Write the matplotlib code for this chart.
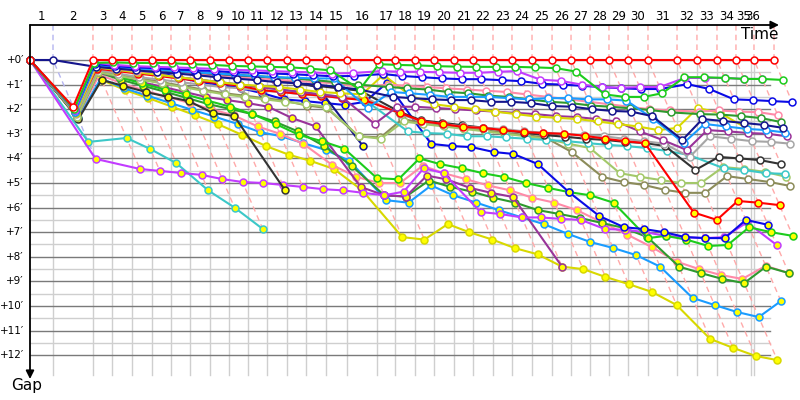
import matplotlib
matplotlib.use("Agg")
import matplotlib.pyplot as plt

# ---------------- data ----------------
# leader elapsed time (minutes) at the end of each lap index (0 = start)
lap_time = [0.00, 2.17, 5.94, 7.74, 9.62, 11.51, 13.30, 15.09, 16.98, 18.77,
            20.57, 22.36, 24.25, 26.04, 27.92, 29.91, 32.74, 34.43, 36.32, 38.11,
            40.00, 41.79, 43.68, 45.47, 47.36, 49.25, 51.04, 52.83, 54.62, 56.42,
            58.30, 61.04, 62.92, 64.81, 66.60, 68.30, 70.19]
# lap label boundaries (minutes)
lap_bounds = [0.00, 2.17, 5.94, 7.74, 9.62, 11.51, 13.30, 15.09, 16.98, 18.77,
              20.57, 22.36, 24.25, 26.04, 27.92, 29.91, 32.74, 34.43, 36.32, 38.11,
              40.00, 41.79, 43.68, 45.47, 47.36, 49.25, 51.04, 52.83, 54.62, 56.42,
              58.30, 61.04, 62.92, 64.81, 66.60, 68.02, 68.30]
lap_labels = [str(i) for i in range(1, 37)]
gap_ticks = [0, 1, 2, 3, 4, 5, 6, 7, 8, 9, 10, 11, 12]

# gaps (minutes) per lap index
red_w = [0, 1.9, 0, 0, 0, 0, 0, 0, 0, 0, 0, 0, 0, 0, 0, 0, 0, 0, 0, 0, 0, 0, 0, 0,
         0, 0, 0, 0, 0, 0, 0, 0, 0, 0, 0, 0, 0]
green_w = [0, 2.0, 0.12, 0.1, 0.12, 0.12, 0.13, 0.17, 0.2, 0.24, 0.26, 0.28, 0.3, 0.35,
           0.42, 1.2, 0.17, 0.2, 0.22, 0.25, 0.27, 0.28, 0.28, 0.28, 0.3, 0.33, 0.47,
           1.4, 1.5, 1.5, 1.35, 0.7, 0.7, 0.73, 0.77, 0.77, 0.81]
violet_w = [0, 2.05, 0.1, 0.2, 0.25, 0.28, 0.3, 0.33, 0.36, 0.4, 0.42, 0.45, 0.48, 0.5,
            0.55, 0.53, 0.45, 0.48, 0.48, 0.5, 0.52, 0.52, 0.48, 0.45, 0.8, 0.85, 1.0,
            1.1, 1.13, 1.1, 1.1, 0.73, 0.73, 0.73, 0.77, 0.77]
blue_w = [0, 2.05, 0.15, 0.25, 0.3, 0.33, 0.38, 0.42, 0.45, 0.5, 0.52, 0.55, 0.58, 0.62,
          0.66, 0.65, 0.57, 0.65, 0.7, 0.75, 0.78, 0.78, 0.82, 0.86, 0.97, 1.0, 1.05,
          1.1, 1.15, 1.18, 1.18, 0.98, 1.18, 1.6, 1.63, 1.67, 1.71]
navy_w = [0, 0, 0.28, 0.35, 0.42, 0.5, 0.55, 0.62, 0.7, 0.76, 0.82, 0.9, 0.95, 1.0,
          1.1, 1.2, 1.5, 1.55, 1.6, 1.63, 1.63, 1.7, 1.7, 1.75, 1.87, 1.9, 2.0, 2.07,
          2.1, 2.28, 3.25, 2.4, 2.48, 2.56, 2.64, 2.76]
dkgreen_w = [0, 2.1, 0.2, 0.28, 0.33, 0.38, 0.43, 0.5, 0.55, 0.6, 0.65, 0.7, 0.75, 0.82,
             0.9, 1.0, 1.1, 1.15, 1.2, 1.3, 1.35, 1.45, 1.5, 1.6, 1.7, 1.75, 1.85, 1.9,
             1.96, 2.03, 2.13, 2.2, 2.22, 2.28, 2.36, 2.52]
ltblue_w = [0, 2.1, 0.2, 0.3, 0.35, 0.4, 0.45, 0.5, 0.55, 0.6, 0.65, 0.7, 0.72, 0.75,
            0.75, 1.95, 1.3, 1.35, 1.42, 1.5, 1.5, 1.5, 1.55, 1.6, 1.55, 1.55, 1.6, 1.6,
            1.65, 2.4, 3.37, 2.6, 2.7, 2.8, 2.85, 2.95]
cyan_w = [0, 2.15, 0.3, 0.4, 0.5, 0.6, 0.7, 0.8, 0.9, 1.0, 1.1, 1.2, 1.3, 1.4, 1.5,
          1.6, 2.9, 2.97, 3.0, 3.1, 3.1, 3.15, 3.2, 3.25, 3.3, 3.38, 3.45, 3.5, 3.58,
          3.7, 3.86, 4.4, 4.47, 4.6, 4.63]
pink_w = [0, 2.1, 0.25, 0.35, 0.45, 0.5, 0.55, 0.6, 0.65, 0.7, 0.75, 0.8, 0.85, 0.9,
          0.95, 1.1, 1.0, 1.05, 1.1, 1.15, 1.2, 1.25, 1.3, 1.4, 1.5, 1.6, 1.7, 1.8, 1.9,
          2.0, 2.05, 2.1, 2.05, 2.1, 2.12, 2.24]
red_y = [0, 2.1, 0.35, 0.45, 0.55, 0.65, 0.75, 0.85, 0.95, 1.05, 1.22, 1.3, 1.38, 1.45,
         1.55, 1.63, 2.15, 2.48, 2.6, 2.72, 2.76, 2.85, 2.93, 2.97, 3.0, 3.08, 3.2, 3.3,
         3.38, 6.2, 6.5, 5.73, 5.8, 5.9]
yellow_w = [0, 2.15, 0.3, 0.4, 0.5, 0.6, 0.7, 0.8, 0.9, 1.0, 1.05, 1.1, 1.2, 1.3, 1.35,
            1.4, 0.6, 1.45, 1.8, 1.9, 2.0, 2.1, 2.2, 2.3, 2.35, 2.4, 2.5, 2.6, 2.7, 2.85,
            2.76, 1.95, 2.15, 2.76]
yellow_y = [0, 2.35, 0.81, 1.22, 1.55, 1.9, 2.24, 2.6, 3.05, 3.5, 3.85, 4.1, 4.43, 5.3,
            7.2, 7.3, 6.67, 7.0, 7.3, 7.65, 7.9, 8.4, 8.5, 8.82, 9.11, 9.43, 9.96, 11.34,
            11.7, 12.03, 12.2]
ltblue_y = [0, 2.35, 0.75, 1.15, 1.45, 1.75, 2.03, 2.3, 2.6, 2.93, 3.1, 3.37, 3.66, 4.1,
            5.7, 5.8, 5.1, 5.5, 5.8, 6.1, 6.4, 6.67, 7.07, 7.4, 7.64, 7.93, 8.4, 9.67,
            9.96, 10.24, 10.45, 9.8]
pink_y = [0, 2.3, 0.6, 0.95, 1.25, 1.5, 1.75, 2.0, 2.25, 2.7, 3.0, 3.4, 4.27, 4.75, 5.0,
          5.0, 4.3, 4.6, 4.85, 5.1, 5.3, 5.6, 5.8, 6.1, 6.6, 7.1, 7.6, 8.2, 8.5, 8.74,
          8.9, 8.37, 8.66]
dkgreen_y = [0, 2.3, 0.5, 0.8, 1.05, 1.3, 1.55, 1.8, 2.0, 2.2, 2.5, 2.9, 3.5, 4.3, 5.5,
             5.55, 4.9, 5.15, 5.35, 5.6, 5.8, 6.1, 6.26, 6.42, 6.63, 6.83, 7.2, 8.4,
             8.66, 8.9, 9.07, 8.4, 8.66]
green_y = [0, 2.25, 0.45, 0.7, 0.95, 1.2, 1.4, 1.65, 1.9, 2.2, 2.6, 3.05, 3.3, 3.6, 4.8,
           4.85, 4.0, 4.23, 4.4, 4.6, 4.76, 5.0, 5.2, 5.37, 5.5, 5.8, 7.24, 7.15, 7.3,
           7.56, 7.52, 6.8, 7.0, 7.15]
blue_y = [0, 2.2, 0.35, 0.33, 0.35, 0.5, 0.7, 0.9, 1.0, 1.15, 1.35, 1.6, 1.67, 1.75,
          1.83, 1.7, 0.93, 3.41, 3.5, 3.54, 3.74, 3.82, 4.23, 5.37, 6.34, 6.8, 6.87, 7.0,
          7.2, 7.24, 7.24, 6.5, 6.7]
navy_y = [0, 2.2, 0.25, 0.3, 0.35, 0.4, 0.45, 0.5, 0.55, 0.6, 0.7, 0.81, 0.93, 1.1, 3.5]
violet_y = [0, 4.02, 4.43, 4.51, 4.59, 4.67, 4.84, 4.96, 5.0, 5.08, 5.16, 5.25, 5.3, 5.4,
            5.5, 5.35, 4.4, 4.6, 6.18, 6.26, 6.4, 6.4, 6.46, 6.5, 6.87, 6.9, 7.0, 7.15,
            7.2, 7.24, 7.2, 6.6, 7.52]
cyan_y = [0, 3.33, 3.17, 3.62, 4.2, 5.3, 6.0, 6.87]
black_y = [0, 2.4, 0.81, 1.05, 1.3, 1.5, 1.67, 2.15, 2.28, 5.3]
black_w = [0, 2.15, 0.3, 0.35, 0.4, 0.45, 0.5, 0.55, 0.6, 0.65, 0.72, 0.8, 0.95, 1.05,
           1.15, 1.25, 2.1, 2.45, 2.55, 2.65, 2.75, 2.85, 2.95, 3.05, 3.12, 3.2, 3.25,
           3.33, 3.37, 3.5, 4.47, 3.94, 4.0, 4.07, 4.23]
gray_w = [0, 2.2, 0.4, 0.55, 0.7, 0.8, 0.9, 1.0, 1.1, 1.15, 1.25, 1.3, 1.4, 1.45, 1.55,
          1.5, 2.2, 2.5, 2.6, 2.7, 2.75, 2.8, 2.9, 2.95, 3.0, 3.05, 3.1, 3.2, 3.3, 3.4,
          3.94, 3.1, 3.2, 3.3, 3.33, 3.4]
olive_w = [0, 2.3, 0.45, 0.6, 0.75, 0.9, 1.05, 1.2, 1.35, 1.45, 1.55, 1.65, 1.85, 1.95,
           3.1, 3.15, 2.4, 2.55, 2.65, 2.75, 2.85, 2.95, 3.05, 3.15, 3.74, 4.75, 4.96,
           5.08, 5.28, 5.4, 5.4, 4.72, 4.84, 4.96, 5.12]
ltgreen_w = [0, 2.3, 0.5, 0.65, 0.8, 0.95, 1.1, 1.25, 1.4, 1.5, 1.6, 1.7, 1.8, 1.9, 3.1,
             3.2, 2.5, 2.6, 2.7, 2.8, 2.9, 3.0, 3.1, 3.2, 3.4, 3.58, 4.6, 4.75, 4.88, 5.0,
             5.0, 4.35, 4.43, 4.55, 4.75]
purple_y = [0, 2.3, 0.5, 0.7, 0.9, 1.1, 1.3, 1.5, 1.63, 1.75, 1.9, 2.36, 2.7, 5.16, 5.5,
            5.55, 4.7, 4.85, 5.2, 5.4, 5.57, 8.4]
purple_w = [0, 2.1, 0.3, 0.4, 0.5, 0.6, 0.7, 0.8, 0.9, 1.0, 1.1, 1.2, 1.3, 1.4, 1.5, 2.6,
            1.9, 1.9, 1.95, 2.0, 2.05, 2.1, 2.15, 2.2, 2.28, 2.32, 2.4, 2.5, 2.9, 3.25,
            3.66, 2.85, 2.9, 2.97, 3.0, 3.1]

# ---------------- styles ----------------
C_RED, C_GREEN, C_DKGREEN = "#ff0000", "#1ccc1c", "#2e9a2e"
C_VIOLET, C_BLUE, C_NAVY = "#c23cff", "#0a0ae6", "#15158c"
C_LTBLUE, C_CYAN, C_PINK = "#1a9cff", "#3cc8c8", "#ff8aa8"
C_YELLOW, C_BLACK, C_GRAY = "#d8d800", "#333333", "#a6a6a6"
C_OLIVE, C_LTGREEN, C_PURPLE = "#8c8c5a", "#a3c86a", "#993399"
W, Y = "#ffffff", "#ffff00"

series = [
    (yellow_y, C_YELLOW, Y), (ltblue_y, C_LTBLUE, Y), (cyan_y, C_CYAN, Y),
    (pink_y, C_PINK, Y), (dkgreen_y, C_DKGREEN, Y), (purple_y, C_PURPLE, Y),
    (violet_y, C_VIOLET, Y), (green_y, C_GREEN, Y), (blue_y, C_BLUE, Y),
    (black_y, C_BLACK, Y), (navy_y, C_NAVY, Y),
    (olive_w, C_OLIVE, W), (ltgreen_w, C_LTGREEN, W), (cyan_w, C_CYAN, W),
    (black_w, C_BLACK, W), (gray_w, C_GRAY, W), (red_y, C_RED, Y),
    (purple_w, C_PURPLE, W), (yellow_w, C_YELLOW, W), (pink_w, C_PINK, W),
    (dkgreen_w, C_DKGREEN, W), (ltblue_w, C_LTBLUE, W), (navy_w, C_NAVY, W),
    (blue_w, C_BLUE, W), (violet_w, C_VIOLET, W), (green_w, C_GREEN, W),
    (red_w, C_RED, W),
]

# ---------------- figure ----------------
PX_X, PX_Y = 10.6, 24.6           # pixels per minute (x, y)
X0, Y0 = 30, 60                   # pixel of t=0 / gap=0
fig = plt.figure(figsize=(8, 4), dpi=100)
ax = fig.add_axes([0, 0, 1, 1])
ax.set_xlim(-X0 / PX_X, (800 - X0) / PX_X)
ax.set_ylim((400 - Y0) / PX_Y, -Y0 / PX_Y)
ax.axis("off")

def gx(px):
    return (px - X0) / PX_X

def gy(py):
    return (py - Y0) / PX_Y

top_y = gy(25)
bot_y = gy(375)
right_x = gx(770)

# horizontal grid
for g in gap_ticks:
    ax.plot([0, right_x], [g, g], color="#7a7a7a", lw=1.0, zorder=1)
    if g < 12:
        ax.plot([0, right_x], [g + 0.5, g + 0.5], color="#cfcfcf", lw=1.0, zorder=0.9)
# vertical grid
for b in lap_bounds[1:]:
    ax.plot([b, b], [0, bot_y], color="#cfcfcf", lw=1.0, zorder=0.9)

# dashed "same lap" diagonals
all_series = [s[0] for s in series]
for k in range(1, len(lap_time)):
    gm = max(s[k] for s in all_series if len(s) > k)
    col = "#b4b4f0" if k == 1 else "#ffaaaa"
    t = lap_time[k]
    ax.plot([t, t, t + gm], [top_y, 0, gm], color=col, lw=1.0,
            dashes=(4, 3), zorder=2)

# series
for vals, col, face in series:
    xs = [lap_time[i] + g for i, g in enumerate(vals)]
    ax.plot(xs, vals, color=col, lw=1.5, marker="o", ms=5.0,
            mfc=face, mec=col, mew=1.1, zorder=3)

# axes lines with arrows
ax.annotate("", xy=(gx(779), top_y), xytext=(0, top_y),
            arrowprops=dict(arrowstyle="-|>", color="black", lw=1.3,
                            mutation_scale=12, shrinkA=0, shrinkB=0), zorder=5)
ax.annotate("", xy=(0, gy(379)), xytext=(0, top_y),
            arrowprops=dict(arrowstyle="-|>", color="black", lw=1.3,
                            mutation_scale=12, shrinkA=0, shrinkB=0), zorder=5)

# lap labels
for i, lab in enumerate(lap_labels):
    cx = (lap_bounds[i] + lap_bounds[i + 1]) / 2
    ax.text(cx, gy(17), lab, ha="center", va="center", fontsize=8.5,
            family="DejaVu Sans")
# gap labels
for g in gap_ticks:
    ax.text(gx(24), g, "+%d\u2032" % g, ha="right", va="center", fontsize=7.5,
            family="DejaVu Sans")

ax.text(gx(760), gy(35), "Time", ha="center", va="center", fontsize=11)
ax.text(gx(27), gy(386), "Gap", ha="center", va="center", fontsize=11)

fig.savefig("out.png", dpi=100)
